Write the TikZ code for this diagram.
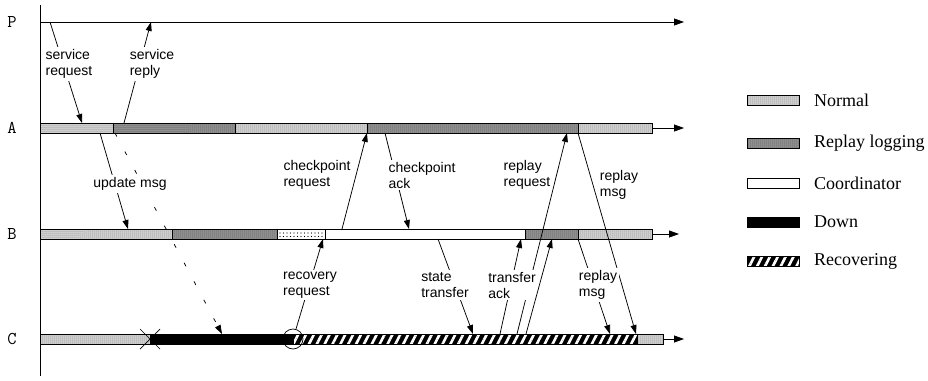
\documentclass[tikz,border=0pt]{standalone}
\usepackage{fontspec}
\setmainfont{Liberation Serif}
\setsansfont{Liberation Sans}
\usetikzlibrary{arrows.meta,patterns,patterns.meta}
\begin{document}
\begin{tikzpicture}[x=1pt,y=-1pt,
  normalbar/.style={preaction={fill=black!15},pattern={Dots[distance=2pt,radius=0.5pt]},pattern color=black!65,draw=black,line width=0.6pt},
  logbar/.style={preaction={fill=black!40},pattern={Dots[distance=2pt,radius=0.5pt]},pattern color=black!85,draw=black,line width=0.6pt},
  sparsebar/.style={preaction={fill=white},pattern={Dots[distance=3.5pt,radius=0.55pt]},pattern color=black,draw=black,line width=0.6pt},
  coordbar/.style={fill=white,draw=black,line width=0.6pt},
  downbar/.style={fill=black,draw=black,line width=0.6pt},
  recbar/.style={preaction={fill=black},pattern={Lines[angle=63,distance=7pt,line width=2.6pt]},pattern color=white,draw=black,line width=0.6pt},
  lane/.style={font=\ttfamily\fontsize{18}{18}\selectfont,inner sep=0pt},
  lbl/.style={font=\sffamily\fontsize{14}{16}\selectfont,align=left,fill=white,inner sep=2pt},
  leg/.style={font=\rmfamily\fontsize{18}{18}\selectfont,anchor=west,inner sep=0pt},
  msg/.style={line width=0.75pt,-{Triangle[length=9pt,width=6pt]}},
  tl/.style={line width=0.75pt,-{Triangle[length=10pt,width=7pt]}}
]
\useasboundingbox (0,0) rectangle (928,380);

% axis
\coordinate (axtop) at (40,5);
\coordinate (axbot) at (40,376);
\draw[line width=0.8pt] (axtop) -- (axbot);

% lane labels
\node[lane] (lP) at (12,22) {P};
\node[lane] (lA) at (12,128) {A};
\node[lane] (lB) at (12,234) {B};
\node[lane] (lC) at (12,339) {C};

% timelines
\coordinate (P0) at (40,22);   \coordinate (P1) at (684,22);
\coordinate (A0) at (652,128); \coordinate (A1) at (684,128);
\coordinate (B0) at (652,234); \coordinate (B1) at (679,234);
\coordinate (C0) at (663,339); \coordinate (C1) at (684,339);
\draw[tl] (P0) -- (P1);
\draw[tl] (A0) -- (A1);
\draw[tl] (B0) -- (B1);
\draw[tl] (C0) -- (C1);

% bars A
\path[normalbar] (40,123) rectangle (113,133);
\path[logbar]    (113,123) rectangle (235,133);
\path[normalbar] (235,123) rectangle (367,133);
\path[logbar]    (367,123) rectangle (578,133);
\path[normalbar] (578,123) rectangle (652,133);
% bars B
\path[normalbar] (40,229) rectangle (172,239);
\path[logbar]    (172,229) rectangle (277,239);
\path[sparsebar] (277,229) rectangle (325,239);
\path[coordbar]  (325,229) rectangle (525,239);
\path[logbar]    (525,229) rectangle (578,239);
\path[normalbar] (578,229) rectangle (652,239);
% bars C
\path[normalbar] (40,334) rectangle (150,344);
\path[downbar]   (150,334) rectangle (293,344);
\path[recbar]    (293,334) rectangle (637,344);
\path[normalbar] (637,334) rectangle (663,344);

% crash mark and recovery circle
\coordinate (x1) at (140,329); \coordinate (x2) at (160,349);
\coordinate (x3) at (140,349); \coordinate (x4) at (160,329);
\draw[line width=0.7pt] (x1) -- (x2);
\draw[line width=0.7pt] (x3) -- (x4);
\node[circle,draw,line width=0.7pt,minimum size=20pt,inner sep=0pt] (circ) at (293,339) {};

% message endpoints
\coordinate (srS) at (50,22);   \coordinate (srE) at (82,123);
\coordinate (rpS) at (124,123); \coordinate (rpE) at (151,22);
\coordinate (upS) at (100,133); \coordinate (upE) at (128,229);
\coordinate (dsS) at (115,133); \coordinate (dsE) at (222,334);
\coordinate (crS) at (342,229); \coordinate (crE) at (367,133);
\coordinate (caS) at (385,133); \coordinate (caE) at (409,229);
\coordinate (rqE) at (323,239);
\coordinate (stS) at (438,239); \coordinate (stE) at (473,334);
\coordinate (taS) at (500,334); \coordinate (taE) at (521,239);
\coordinate (raS) at (517,334); \coordinate (raE) at (567,133);
\coordinate (rbS) at (526,334); \coordinate (rbE) at (552,239);
\coordinate (maS) at (578,133); \coordinate (maE) at (636,334);
\coordinate (mbS) at (578,239); \coordinate (mbE) at (610,334);

\draw[msg] (srS) -- (srE);
\draw[msg] (rpS) -- (rpE);
\draw[msg] (upS) -- (upE);
\draw[msg,dash pattern=on 4pt off 17pt] (dsS) -- (dsE);
\draw[msg] (crS) -- (crE);
\draw[msg] (caS) -- (caE);
\draw[msg] (circ) -- (rqE);
\draw[msg] (stS) -- (stE);
\draw[msg] (taS) -- (taE);
\draw[msg] (raS) -- (raE);
\draw[msg] (maS) -- (maE);
\draw[msg] (mbS) -- (mbE);

% labels
\node[lbl] (tSR) at (69,64) {service\\request};
\node[lbl] (tRP) at (152,64) {service\\reply};
\node[lbl] (tUP) at (130,184) {update msg};
\node[lbl,fill=none] (tCR) at (317,175) {checkpoint\\request};
\node[lbl] (tCA) at (422,175) {checkpoint\\ack};
\node[lbl,fill=none] (tRR) at (527,175) {replay\\request};
\node[lbl,fill=none] (tMA) at (619,185) {replay\\msg};
\node[lbl] (tRQ) at (310,285) {recovery\\request};
\node[lbl] (tST) at (445,285) {state\\transfer};
\node[lbl] (tTA) at (512,285) {transfer\\ack};
\node[lbl] (tMB) at (598,285) {replay\\msg};

\draw[msg] (rbS) -- (rbE);

% legend
\path[normalbar] (747,95) rectangle (799,105);
\path[logbar]    (747,138) rectangle (799,148);
\path[coordbar]  (747,178) rectangle (799,188);
\path[downbar]   (747,217) rectangle (799,227);
\path[recbar]    (747,256) rectangle (799,266);
\node[leg] (gN) at (814,100) {Normal};
\node[leg] (gR) at (814,143) {Replay logging};
\node[leg] (gC) at (814,183) {Coordinator};
\node[leg] (gD) at (814,222) {Down};
\node[leg] (gV) at (814,261) {Recovering};
\end{tikzpicture}
\end{document}
